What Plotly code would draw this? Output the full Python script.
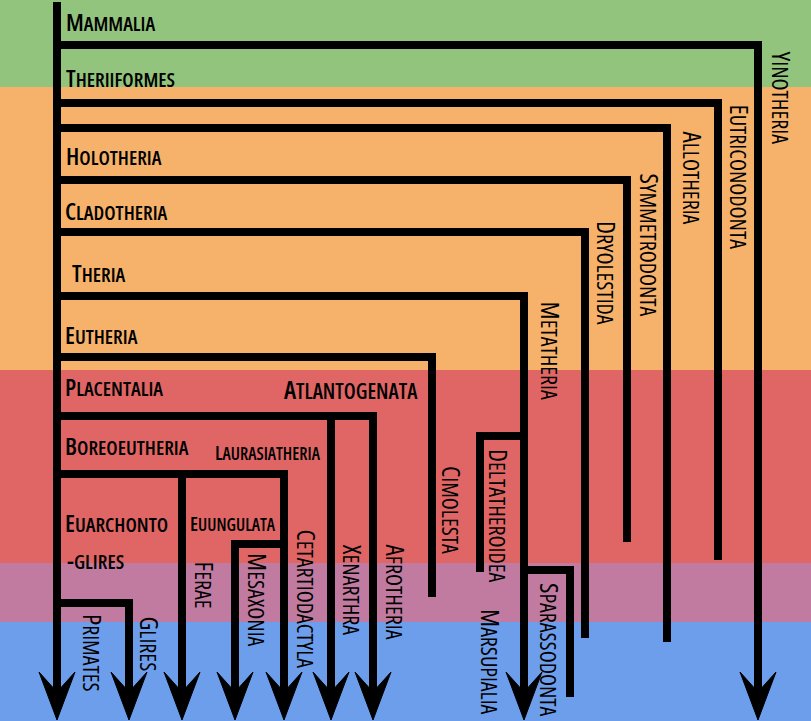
import plotly.graph_objects as go

W, H = 811, 721

# ---- background time bands (top edges / bottom edges in chart units) ----
band_edges = [0, 87, 370, 563, 622, 721]
band_colors = ["#93c47d", "#f6b26b", "#e06666", "#c27ba0", "#6d9eeb"]

# ---- tree structure ----
trunk_x = 57
trunk_top = 2
arrow_tip_y = 720

clade_names = ["Yinotheria", "Eutriconodonta", "Allotheria", "Symmetrodonta",
               "Dryolestida", "Marsupialia", "Deltatheroidea", "Sparassodonta",
               "Cimolesta", "Afrotheria", "Xenarthra", "Cetartiodactyla",
               "Ferae", "Mesaxonia", "Glires", "Primates"]
parent_x = [57, 57, 57, 57, 57, 57, 524, 524, 57, 57, 331, 57, 182, 284, 57, 57]
node_y = [45, 103, 128, 180, 232, 296, 436, 570, 357, 416, 416, 474, 474, 544, 603, 2]
tip_x = [758, 718, 667, 627, 585, 524, 480, 570, 432, 373, 331, 284, 182, 235, 129, 57]
end_y = [None, 560, 642, 542, 638, None, 572, 697, 597, None, None, None, None, None, None, None]

# ---- horizontal node labels ----
node_labels = ["Mammalia", "Theriiformes", "Holotheria", "Cladotheria", "Theria",
               "Eutheria", "Placentalia", "Boreoeutheria", "Euarchonto", "-glires"]
node_label_x = [64, 64, 64, 63, 70, 63, 63, 63, 63, 65]
node_label_y = [21, 77, 155, 210, 272, 334, 386, 445, 522, 559]

side_labels = ["Atlantogenata", "Laurasiatheria", "Euungulata"]
side_label_x = [420, 323, 278]
side_label_y = [389, 452, 523]
side_label_size = [25, 19.5, 19.5]

# ---- vertical tip labels ----
tip_labels = ["Yinotheria", "Eutriconodonta", "Allotheria", "Symmetrodonta",
              "Dryolestida", "Metatheria", "Cimolesta", "Deltatheroidea",
              "Sparassodonta", "Marsupialia", "Afrotheria", "Xenarthra",
              "Cetartiodactyla", "Mesaxonia", "Ferae", "Glires", "Primates"]
tip_label_x = [782, 740, 693, 650, 607, 551, 452, 499, 550, 491, 396, 353, 307, 258, 205, 150, 93]
tip_label_y = [49, 102, 129, 171, 219, 299, 464, 447, 581, 607, 542, 542, 527, 551, 559, 614, 612]

FONT = "Open Sans, Roboto, sans-serif"
LW = 8


def smallcaps(s, size):
    first, rest = s[0], s[1:]
    return ("<span style='font-stretch:75%%'>%s<span style='font-size:%dpx'>%s</span></span>"
            % (first.upper(), int(round(size * 0.85)), rest.upper()))


fig = go.Figure()

# bands
for i, c in enumerate(band_colors):
    fig.add_shape(type="rect", xref="x", yref="y", x0=0, x1=W,
                  y0=band_edges[i], y1=band_edges[i + 1],
                  fillcolor=c, line_width=0, layer="below")

notch = arrow_tip_y - 28

# trunk
fig.add_trace(go.Scatter(x=[trunk_x, trunk_x], y=[trunk_top, notch], mode="lines",
                         line=dict(color="black", width=LW), hoverinfo="skip",
                         showlegend=False))

# branches
for name, px, ny, tx, ey in zip(clade_names, parent_x, node_y, tip_x, end_y):
    bottom = notch if ey is None else ey
    fig.add_trace(go.Scatter(x=[px, tx, tx], y=[ny, ny, bottom], mode="lines",
                             line=dict(color="black", width=LW), hoverinfo="skip",
                             showlegend=False, name=name))
    if ey is None:
        hx = [tx - 18, tx, tx + 18, tx, tx - 18]
        hy = [arrow_tip_y - 48, arrow_tip_y, arrow_tip_y - 48, notch, arrow_tip_y - 48]
        fig.add_trace(go.Scatter(x=hx, y=hy, mode="lines", fill="toself",
                                 fillcolor="black", line=dict(color="black", width=1),
                                 hoverinfo="skip", showlegend=False))

annotations = []
for t, x, y in zip(node_labels, node_label_x, node_label_y):
    annotations.append(dict(x=x, y=y, xref="x", yref="y", text=smallcaps(t, 24),
                            showarrow=False, xanchor="left", yanchor="middle",
                            font=dict(family=FONT, size=24, color="black", weight=600)))
for t, x, y, s in zip(side_labels, side_label_x, side_label_y, side_label_size):
    annotations.append(dict(x=x, y=y, xref="x", yref="y", text=smallcaps(t, s),
                            showarrow=False, xanchor="right", yanchor="middle",
                            font=dict(family=FONT, size=s, color="black", weight=600)))
for t, x, y in zip(tip_labels, tip_label_x, tip_label_y):
    annotations.append(dict(x=x, y=y, xref="x", yref="y", text=smallcaps(t, 25.5),
                            showarrow=False, xanchor="center", yanchor="top", textangle=90,
                            font=dict(family=FONT, size=25.5, color="black")))

fig.update_layout(
    width=W, height=H, margin=dict(l=0, r=0, t=0, b=0),
    paper_bgcolor="white", plot_bgcolor="white",
    xaxis=dict(range=[0, W], visible=False, fixedrange=True),
    yaxis=dict(range=[H, 0], visible=False, fixedrange=True),
    annotations=annotations, showlegend=False,
)

fig.write_html("out.html", config={"displayModeBar": False},
               post_script="document.body.style.margin='0';document.body.style.overflow='hidden';")
